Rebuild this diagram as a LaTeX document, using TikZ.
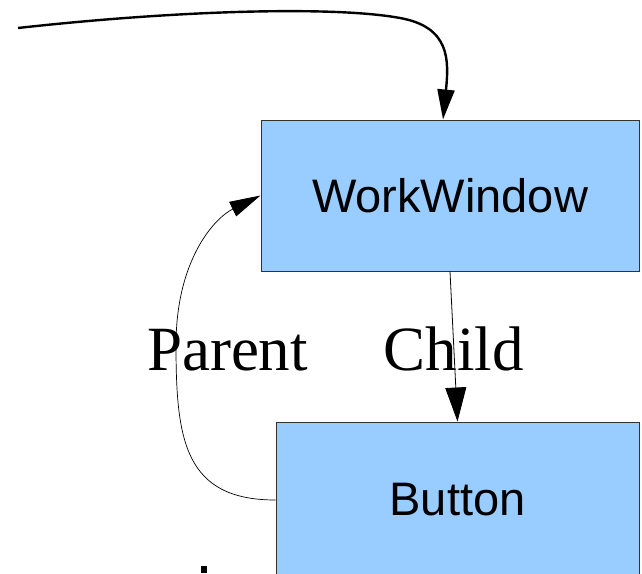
\documentclass[tikz,border=0pt]{standalone}
\usepackage{fontspec}
\setmainfont{Liberation Serif}
\setsansfont{Liberation Sans}
\usetikzlibrary{arrows.meta}
\definecolor{boxblue}{RGB}{153, 204, 255}
\definecolor{edgegray}{RGB}{50, 50, 50}
\tikzset{
  widget/.style={draw=edgegray, fill=boxblue, line width=1pt, inner sep=0pt,
    font=\sffamily\fontsize{47}{56}\selectfont},
  rolelabel/.style={anchor=base, inner sep=0pt, font=\fontsize{63}{75}\selectfont},
}

\begin{document}
\begin{tikzpicture}[x=1pt, y=-1pt]
  \path[use as bounding box, clip] (0,0) rectangle (642,573);

  % Widgets
  \node[widget, minimum width=378pt, minimum height=151pt] (work) at (450,195.5) {WorkWindow};
  \node[widget, minimum width=363pt, minimum height=156pt] (button) at (457.5,500) {Button};

  % Labels
  \node[rolelabel] (parent) at (227.5,370) {Parent};
  \node[rolelabel] (child) at (453.5,370) {Child};

  % Incoming arrow from the left
  \coordinate (src) at (18,28);
  \coordinate (top) at ([xshift=-7pt]work.north);
  \draw[-{Triangle[length=30pt, width=17pt]}, line width=2.4pt]
    (src) .. controls (180,10) and (335,6) .. (400,18)
          .. controls (450,27) and (449,60) .. (top);

  % Child arrow
  \draw[-{Triangle[length=34pt, width=21pt]}, line width=0.8pt] (work.south) -- (button.north);

  % Parent arrow
  \coordinate (bend) at (176,345);
  \draw[-{Triangle[length=31pt, width=16pt]}, line width=0.7pt]
    (button.west) .. controls +(-91,0) and +(0,95) .. (bend)
                  .. controls +(0,-85) and +(-46,22.5) .. (work.west);

  % Cut-off glyph at the bottom
  \fill (201,566) rectangle (206.5,573);
\end{tikzpicture}
\end{document}
